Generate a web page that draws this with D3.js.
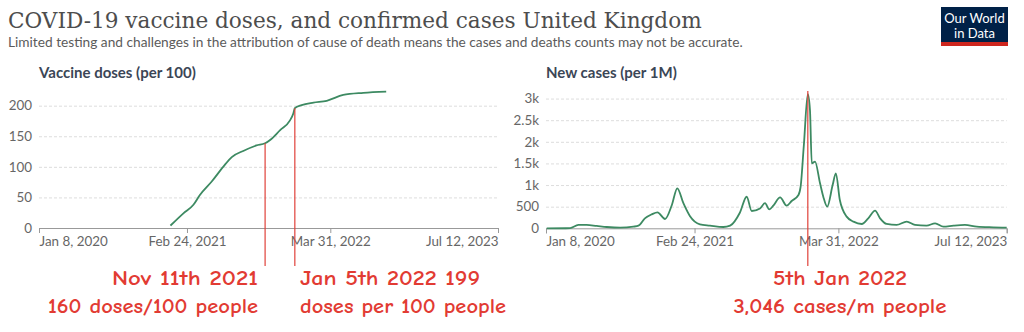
<!DOCTYPE html>
<html>
<head>
<meta charset="utf-8">
<script src="https://cdn.jsdelivr.net/npm/d3@7"></script>
<style>
  body { margin: 0; background: #fff; }
  svg { display: block; }
  .tick text { font-family: Lato, "Open Sans", sans-serif; font-size: 13.4px; fill: #666; }
</style>
</head>
<body>
<div id="chart"></div>
<script>
// vaccine doses per 100 people
var vaxDates = ["2021-01-09","2021-02-14","2021-03-14","2021-04-01","2021-05-04","2021-06-05","2021-06-29",
  "2021-07-31","2021-09-06","2021-09-30","2021-10-14","2021-11-11","2021-12-08","2021-12-18","2021-12-22",
  "2022-01-10","2022-02-12","2022-03-21","2022-05-06","2022-07-01","2022-09-03"];
var vaxValues = [4,24,38,54,76,100,116,126,135,138.5,144,160,175.5,187.6,196,201,205,208,217.5,221,223];

// new cases per million
var caseDates = ["2020-01-10","2020-03-15","2020-04-07","2020-04-30","2020-05-28","2020-06-25","2020-08-01",
  "2020-09-07","2020-09-21","2020-10-09","2020-10-28","2020-11-13","2020-12-04","2020-12-23","2021-01-07",
  "2021-01-24","2021-02-11","2021-03-11","2021-04-08","2021-05-15","2021-06-03","2021-06-30","2021-07-19",
  "2021-08-02","2021-08-25","2021-09-08","2021-09-20","2021-10-01","2021-10-20","2021-11-07","2021-11-21",
  "2021-12-10","2021-12-16","2021-12-25","2022-01-05","2022-01-11","2022-01-16","2022-01-25","2022-02-08",
  "2022-02-17","2022-02-28","2022-03-15","2022-03-24","2022-04-04","2022-04-23","2022-05-12","2022-06-04",
  "2022-06-22","2022-07-11","2022-07-25","2022-08-12","2022-09-09","2022-10-07","2022-10-30","2022-12-01",
  "2022-12-25","2023-01-17","2023-02-14","2023-03-18","2023-04-20","2023-06-05","2023-07-12"];
var caseValues = [0,2,77,77,54,30,15,38,60,230,323,370,215,540,925,580,285,92,62,30,62,360,730,400,460,580,
  439,523,716,523,631,770,962,1925,3100,2733,1500,1540,1040,731,500,1000,1270,654,270,154,100,231,408,231,
  100,77,154,77,62,115,38,62,77,38,23,15];

var xTicks = ["2020-01-08","2021-02-24","2022-03-31","2023-07-12"];
var xTickLabels = ["Jan 8, 2020","Feb 24, 2021","Mar 31, 2022","Jul 12, 2023"];
var vaxTicks = [0,50,100,150,200];
var caseTicks = [0,500,1000,1500,2000,2500,3000];
var caseTickLabels = ["0","500","1k","1.5k","2k","2.5k","3k"];

// red hand-drawn markers (dates where lines sit in the picture)
var vaxMarkDates = ["2021-09-30","2021-12-22"];
var vaxMarkValues = [138.5,196];
var caseMarkDates = ["2022-01-05"];
var caseMarkTop = [3175];

var noteTexts = ["Nov 11th 2021","160 doses/100 people","Jan 5th 2022 199","doses per 100 people",
  "5th Jan 2022","3,046 cases/m people"];

var parse = d3.timeParse("%Y-%m-%d");
var W = 1024, H = 332;
var svg = d3.select("#chart").append("svg").attr("width", W).attr("height", H);

svg.append("text").attr("x", 8).attr("y", 28)
  .style("font-family", "'DejaVu Serif', 'Liberation Serif', serif").style("font-size", "21.6px")
  .style("fill", "#4d4d4d").text("COVID-19 vaccine doses, and confirmed cases United Kingdom");
svg.append("text").attr("x", 8).attr("y", 47)
  .style("font-family", "Lato, sans-serif").style("font-size", "13.7px")
  .style("fill", "#5b5b5b")
  .text("Limited testing and challenges in the attribution of cause of death means the cases and deaths counts may not be accurate.");

// logo
var logo = svg.append("g");
logo.append("rect").attr("x", 941).attr("y", 7).attr("width", 67).attr("height", 39).attr("fill", "#002147");
logo.append("rect").attr("x", 941).attr("y", 42).attr("width", 67).attr("height", 4).attr("fill", "#ce261e");
logo.append("text").attr("x", 974.5).attr("y", 23).attr("text-anchor", "middle")
  .style("font-family", "Lato, sans-serif").style("font-size", "13px").style("fill", "#fff").text("Our World");
logo.append("text").attr("x", 974.5).attr("y", 37.5).attr("text-anchor", "middle")
  .style("font-family", "Lato, sans-serif").style("font-size", "13px").style("fill", "#fff").text("in Data");

function panel(cfg) {
  var g = svg.append("g");
  var x = d3.scaleTime().domain([parse("2020-01-08"), parse("2023-07-12")]).range([cfg.x0, cfg.x1]);
  var y = d3.scaleLinear().domain([0, cfg.ymax]).range([cfg.y0, 91]);

  g.append("text").attr("x", cfg.x0).attr("y", 78)
    .style("font-family", "Lato, sans-serif").style("font-size", "15px").style("font-weight", "bold")
    .style("fill", "#3b4656").text(cfg.title);

  // gridlines + y labels
  var ya = g.append("g").attr("transform", "translate(" + cfg.x0 + ",0)")
    .call(d3.axisLeft(y).tickValues(cfg.yTicks).tickSize(-(cfg.x1 - cfg.x0)).tickPadding(7)
      .tickFormat(function (d, i) { return cfg.yLabels[i]; }));
  ya.select(".domain").remove();
  ya.selectAll(".tick line").attr("stroke", "#ddd").attr("stroke-dasharray", "3,2")
    .filter(function (d) { return d === 0; }).remove();

  var xa = g.append("g").attr("transform", "translate(0," + cfg.y0 + ")")
    .call(d3.axisBottom(x).tickValues(xTicks.map(parse)).tickSize(5).tickPadding(3)
      .tickFormat(function (d, i) { return xTickLabels[i]; }));
  xa.select(".domain").attr("stroke", "#999");
  xa.selectAll(".tick line").attr("stroke", "#999");
  xa.selectAll(".tick text").attr("text-anchor", function (d, i) {
    return i === 0 ? "start" : (i === xTicks.length - 1 ? "end" : "middle");
  });

  var pts = cfg.dates.map(function (d, i) { return { d: parse(d), v: cfg.values[i] }; });
  g.append("path").datum(pts)
    .attr("fill", "none").attr("stroke", "#3d8a62").attr("stroke-width", 1.8)
    .attr("d", d3.line().x(function (p) { return x(p.d); }).y(function (p) { return y(p.v); })
      .curve(d3.curveMonotoneX));

  cfg.marks.forEach(function (m, i) {
    g.append("line").attr("x1", x(parse(m))).attr("x2", x(parse(m)))
      .attr("y1", y(cfg.markTop[i])).attr("y2", 266)
      .attr("stroke", "#e0413a").attr("stroke-width", 1.2);
  });
}

panel({ x0: 39, x1: 498, y0: 228, ymax: 224, title: "Vaccine doses (per 100)",
  yTicks: vaxTicks, yLabels: vaxTicks.map(String), dates: vaxDates, values: vaxValues,
  marks: vaxMarkDates, markTop: vaxMarkValues });
panel({ x0: 546, x1: 1006.7, y0: 228.3, ymax: 3175, title: "New cases (per 1M)",
  yTicks: caseTicks, yLabels: caseTickLabels, dates: caseDates, values: caseValues,
  marks: caseMarkDates, markTop: caseMarkTop });

// red annotations: anchor point, alignment and width of each line as in the picture
var noteLayout = [
  { x: 258, y: 285, a: "end", w: 146 },
  { x: 258, y: 313, a: "end", w: 210 },
  { x: 300, y: 285, a: "start", w: 180 },
  { x: 300, y: 313, a: "start", w: 206 },
  { x: 840, y: 285, a: "middle", w: 134 },
  { x: 840, y: 313, a: "middle", w: 213 }
];
svg.selectAll(".note").data(noteTexts).enter().append("text")
  .attr("class", "note")
  .attr("x", function (d, i) { return noteLayout[i].x; }).attr("y", function (d, i) { return noteLayout[i].y; })
  .attr("text-anchor", function (d, i) { return noteLayout[i].a; })
  .attr("textLength", function (d, i) { return noteLayout[i].w; })
  .attr("lengthAdjust", "spacingAndGlyphs")
  .style("font-family", "'Comic Sans MS', 'Comic Neue', 'DejaVu Sans', sans-serif")
  .style("font-size", "19.5px").style("font-weight", "bold").style("fill", "#e23b33")
  .text(function (d) { return d; });
</script>
</body>
</html>
